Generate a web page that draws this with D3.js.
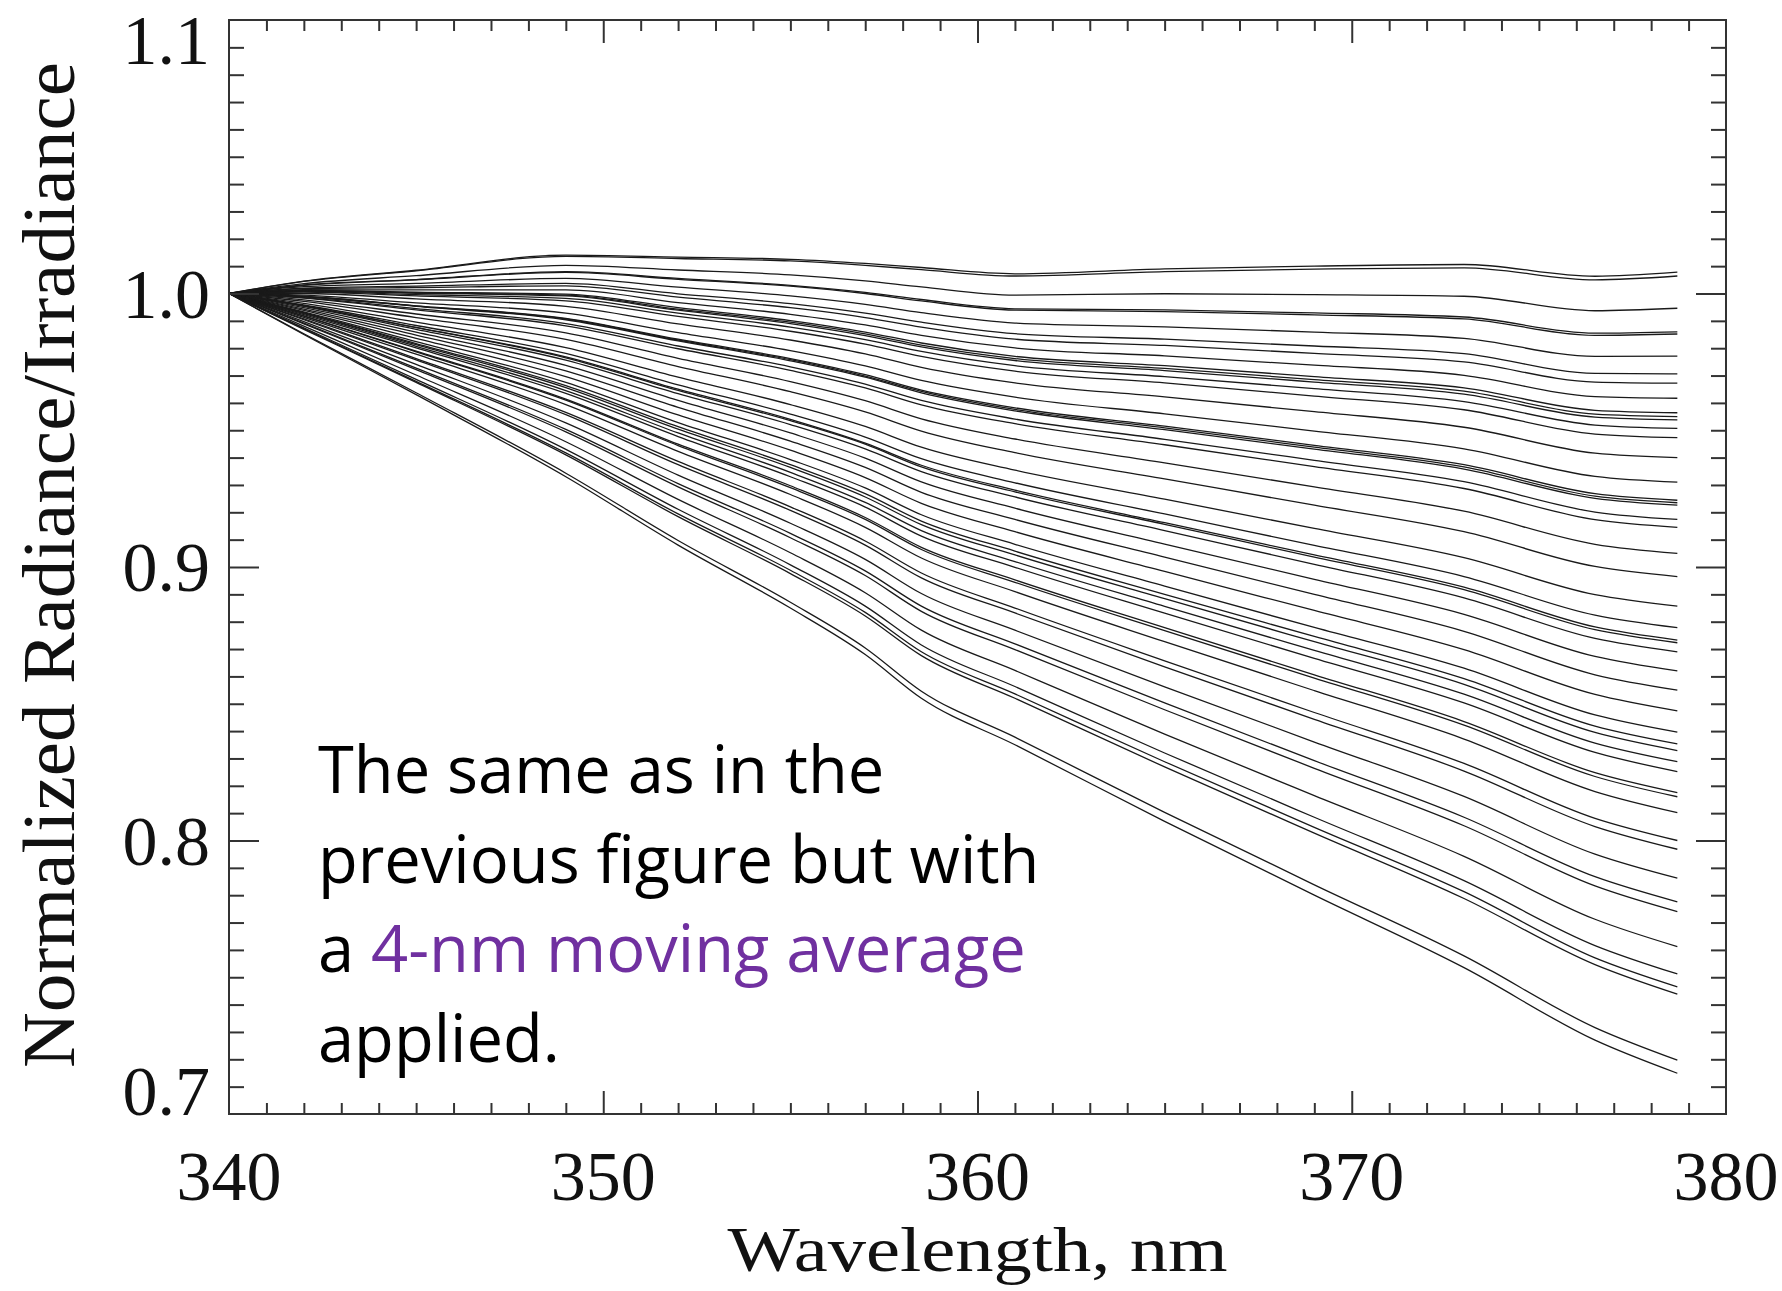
<!DOCTYPE html>
<html>
<head>
<meta charset="utf-8">
<script src="https://cdn.jsdelivr.net/npm/d3@7"></script>
<style>
  body { margin: 0; background: #fff; }
  svg { display: block; }
</style>
</head>
<body>
<div class="chart"></div>
<script>
const wavelengths = [340, 342, 345, 349, 352, 355, 357, 358.5, 361, 365, 369, 373, 376.5, 378.7]

// normalized radiance/irradiance, one array per curve, top to bottom
const r01 = [1, 1.0045, 1.0085, 1.0140, 1.0133, 1.0125, 1.0110, 1.0095, 1.0072, 1.0090, 1.0100, 1.0106, 1.0063, 1.0078]
const r02 = [1, 1.0044, 1.0083, 1.0136, 1.0128, 1.0119, 1.0103, 1.0087, 1.0064, 1.0080, 1.0089, 1.0094, 1.0050, 1.0064]
const r03 = [1, 1.0036, 1.0065, 1.0103, 1.0086, 1.0068, 1.0046, 1.0024, 0.9994, 0.9999, 0.9996, 0.9990, 0.9937, 0.9946]
const r04 = [1, 1.0031, 1.0051, 1.0080, 1.0055, 1.0030, 1.0004, 0.9978, 0.9944, 0.9940, 0.9929, 0.9914, 0.9855, 0.9860]
const r05 = [1, 1.0030, 1.0050, 1.0077, 1.0052, 1.0027, 1.0000, 0.9973, 0.9939, 0.9934, 0.9922, 0.9907, 0.9847, 0.9852]
const r06 = [1, 1.0025, 1.0037, 1.0055, 1.0023, 0.9991, 0.9960, 0.9930, 0.9892, 0.9878, 0.9859, 0.9836, 0.9770, 0.9771]
const r07 = [1, 1.0020, 1.0027, 1.0037, 0.9999, 0.9963, 0.9928, 0.9895, 0.9853, 0.9833, 0.9808, 0.9780, 0.9708, 0.9706]
const r08 = [1, 1.0018, 1.0022, 1.0028, 0.9987, 0.9948, 0.9912, 0.9877, 0.9833, 0.9810, 0.9781, 0.9750, 0.9676, 0.9672]
const r09 = [1, 1.0014, 1.0013, 1.0013, 0.9967, 0.9924, 0.9885, 0.9847, 0.9801, 0.9772, 0.9738, 0.9701, 0.9623, 0.9617]
const r10 = [1, 1.0011, 1.0005, 0.9998, 0.9948, 0.9901, 0.9859, 0.9819, 0.9770, 0.9736, 0.9696, 0.9655, 0.9573, 0.9564]
const r11 = [1, 1.0010, 1.0003, 0.9994, 0.9943, 0.9895, 0.9852, 0.9811, 0.9762, 0.9726, 0.9685, 0.9643, 0.9559, 0.9550]
const r12 = [1, 1.0009, 1.0001, 0.9991, 0.9939, 0.9890, 0.9846, 0.9805, 0.9755, 0.9718, 0.9676, 0.9632, 0.9548, 0.9538]
const r13 = [1, 1.0007, 0.9996, 0.9982, 0.9928, 0.9877, 0.9831, 0.9788, 0.9736, 0.9696, 0.9652, 0.9605, 0.9519, 0.9507]
const r14 = [1, 1.0005, 0.9991, 0.9973, 0.9916, 0.9862, 0.9815, 0.9770, 0.9716, 0.9673, 0.9625, 0.9575, 0.9486, 0.9473]
const r15 = [1, 1.0000, 0.9980, 0.9953, 0.9889, 0.9830, 0.9779, 0.9730, 0.9673, 0.9622, 0.9568, 0.9511, 0.9416, 0.9400]
const r16 = [1, 0.9994, 0.9966, 0.9928, 0.9857, 0.9791, 0.9735, 0.9682, 0.9621, 0.9560, 0.9497, 0.9432, 0.9331, 0.9310]
const r17 = [1, 0.9990, 0.9955, 0.9909, 0.9833, 0.9762, 0.9703, 0.9647, 0.9582, 0.9515, 0.9445, 0.9374, 0.9268, 0.9244]
const r18 = [1, 0.9989, 0.9954, 0.9907, 0.9830, 0.9758, 0.9698, 0.9642, 0.9576, 0.9509, 0.9438, 0.9366, 0.9259, 0.9235]
const r19 = [1, 0.9988, 0.9953, 0.9904, 0.9827, 0.9754, 0.9694, 0.9637, 0.9571, 0.9502, 0.9431, 0.9358, 0.9251, 0.9226]
const r20 = [1, 0.9985, 0.9945, 0.9890, 0.9808, 0.9732, 0.9669, 0.9609, 0.9541, 0.9467, 0.9390, 0.9312, 0.9201, 0.9174]
const r21 = [1, 0.9983, 0.9940, 0.9882, 0.9798, 0.9719, 0.9655, 0.9593, 0.9524, 0.9447, 0.9367, 0.9287, 0.9173, 0.9145]
const r22 = [1, 0.9977, 0.9925, 0.9856, 0.9763, 0.9678, 0.9608, 0.9542, 0.9468, 0.9381, 0.9293, 0.9204, 0.9083, 0.9050]
const r23 = [1, 0.9971, 0.9912, 0.9832, 0.9733, 0.9641, 0.9567, 0.9497, 0.9418, 0.9322, 0.9226, 0.9129, 0.9002, 0.8965]
const r24 = [1, 0.9964, 0.9895, 0.9802, 0.9694, 0.9594, 0.9514, 0.9438, 0.9354, 0.9248, 0.9141, 0.9034, 0.8899, 0.8857]
const r25 = [1, 0.9958, 0.9883, 0.9781, 0.9666, 0.9559, 0.9475, 0.9396, 0.9308, 0.9194, 0.9079, 0.8965, 0.8824, 0.8778]
const r26 = [1, 0.9955, 0.9876, 0.9768, 0.9650, 0.9540, 0.9453, 0.9372, 0.9281, 0.9162, 0.9044, 0.8926, 0.8781, 0.8733]
const r27 = [1, 0.9955, 0.9875, 0.9765, 0.9646, 0.9535, 0.9449, 0.9366, 0.9275, 0.9156, 0.9036, 0.8917, 0.8771, 0.8723]
const r28 = [1, 0.9953, 0.9869, 0.9756, 0.9634, 0.9521, 0.9432, 0.9349, 0.9256, 0.9133, 0.9010, 0.8887, 0.8739, 0.8690]
const r29 = [1, 0.9948, 0.9859, 0.9737, 0.9609, 0.9490, 0.9398, 0.9311, 0.9215, 0.9084, 0.8955, 0.8827, 0.8673, 0.8620]
const r30 = [1, 0.9943, 0.9848, 0.9717, 0.9584, 0.9460, 0.9364, 0.9273, 0.9174, 0.9036, 0.8900, 0.8765, 0.8606, 0.8550]
const r31 = [1, 0.9938, 0.9836, 0.9696, 0.9556, 0.9427, 0.9327, 0.9233, 0.9129, 0.8984, 0.8841, 0.8698, 0.8534, 0.8474]
const r32 = [1, 0.9933, 0.9824, 0.9675, 0.9528, 0.9393, 0.9289, 0.9191, 0.9083, 0.8930, 0.8779, 0.8630, 0.8459, 0.8396]
const r33 = [1, 0.9930, 0.9817, 0.9663, 0.9513, 0.9374, 0.9268, 0.9168, 0.9058, 0.8900, 0.8746, 0.8592, 0.8418, 0.8353]
const r34 = [1, 0.9929, 0.9813, 0.9656, 0.9504, 0.9364, 0.9256, 0.9155, 0.9044, 0.8884, 0.8727, 0.8571, 0.8395, 0.8329]
const r35 = [1, 0.9926, 0.9807, 0.9645, 0.9490, 0.9346, 0.9236, 0.9133, 0.9020, 0.8856, 0.8695, 0.8535, 0.8356, 0.8288]
const r36 = [1, 0.9923, 0.9801, 0.9635, 0.9477, 0.9330, 0.9219, 0.9113, 0.8999, 0.8831, 0.8666, 0.8503, 0.8322, 0.8252]
const r37 = [1, 0.9918, 0.9789, 0.9614, 0.9449, 0.9297, 0.9181, 0.9072, 0.8953, 0.8778, 0.8606, 0.8435, 0.8248, 0.8175]
const r38 = [1, 0.9917, 0.9787, 0.9610, 0.9444, 0.9290, 0.9174, 0.9064, 0.8944, 0.8767, 0.8594, 0.8422, 0.8234, 0.8160]
const r39 = [1, 0.9913, 0.9778, 0.9594, 0.9423, 0.9265, 0.9145, 0.9033, 0.8910, 0.8727, 0.8548, 0.8371, 0.8179, 0.8102]
const r40 = [1, 0.9907, 0.9762, 0.9565, 0.9386, 0.9220, 0.9095, 0.8978, 0.8850, 0.8657, 0.8468, 0.8282, 0.8081, 0.8000]
const r41 = [1, 0.9904, 0.9757, 0.9557, 0.9374, 0.9207, 0.9080, 0.8960, 0.8832, 0.8635, 0.8443, 0.8254, 0.8051, 0.7968]
const r42 = [1, 0.9897, 0.9741, 0.9527, 0.9336, 0.9160, 0.9028, 0.8903, 0.8769, 0.8562, 0.8360, 0.8161, 0.7950, 0.7862]
const r43 = [1, 0.9892, 0.9727, 0.9503, 0.9305, 0.9123, 0.8986, 0.8857, 0.8719, 0.8503, 0.8292, 0.8085, 0.7868, 0.7776]
const r44 = [1, 0.9889, 0.9722, 0.9494, 0.9293, 0.9107, 0.8969, 0.8838, 0.8698, 0.8478, 0.8264, 0.8054, 0.7834, 0.7740]
const r45 = [1, 0.9881, 0.9702, 0.9458, 0.9247, 0.9052, 0.8906, 0.8769, 0.8622, 0.8389, 0.8164, 0.7942, 0.7712, 0.7612]
const r46 = [1, 0.9874, 0.9686, 0.9430, 0.9211, 0.9008, 0.8857, 0.8715, 0.8563, 0.8320, 0.8085, 0.7853, 0.7616, 0.7512]
const r47 = [1, 0.9871, 0.9679, 0.9417, 0.9194, 0.8988, 0.8834, 0.8690, 0.8536, 0.8288, 0.8048, 0.7813, 0.7571, 0.7465]
const r48 = [1, 0.9869, 0.9675, 0.9410, 0.9184, 0.8976, 0.8821, 0.8676, 0.8520, 0.8269, 0.8027, 0.7788, 0.7546, 0.7438]
const r49 = [1, 0.9853, 0.9637, 0.9343, 0.9097, 0.8871, 0.8704, 0.8546, 0.8378, 0.8103, 0.7838, 0.7578, 0.7316, 0.7197]
const r50 = [1, 0.9850, 0.9630, 0.9330, 0.9080, 0.8850, 0.8680, 0.8520, 0.8350, 0.8070, 0.7800, 0.7535, 0.7270, 0.7149]

const spectra = [r01, r02, r03, r04, r05, r06, r07, r08, r09, r10,
                 r11, r12, r13, r14, r15, r16, r17, r18, r19, r20,
                 r21, r22, r23, r24, r25, r26, r27, r28, r29, r30,
                 r31, r32, r33, r34, r35, r36, r37, r38, r39, r40,
                 r41, r42, r43, r44, r45, r46, r47, r48, r49, r50]

const xTickLabels = [340, 350, 360, 370, 380]
const yTickLabels = [0.7, 0.8, 0.9, 1.0, 1.1]
const xTitle = 'Wavelength, nm'
const yTitle = 'Normalized Radiance/Irradiance'
const noteLines = [
    [{ t: 'The same as in the' }],
    [{ t: 'previous figure but with' }],
    [{ t: 'a ' }, { t: '4-nm moving average', purple: true }],
    [{ t: 'applied.' }]
]

const svgWidth = 1782
const svgHeight = 1291
const frame = { left: 229, right: 1726, top: 20, bottom: 1114 }
const axisColor = '#333'
const serif = '"Liberation Serif", "Times New Roman", serif'

const svg = d3.select('.chart')
    .append('svg')
    .attr('width', svgWidth)
    .attr('height', svgHeight)

svg.append('rect')
    .attr('width', svgWidth)
    .attr('height', svgHeight)
    .attr('fill', '#fff')

const x = d3.scaleLinear().domain([340, 380]).range([frame.left, frame.right])
const y = d3.scaleLinear().domain([0.7, 1.1]).range([frame.bottom, frame.top])

// curves
const line = d3.line()
    .x((d, i) => x(wavelengths[i]))
    .y(d => y(d))
    .curve(d3.curveMonotoneX)

svg.append('g')
    .selectAll('path')
    .data(spectra)
    .join('path')
    .attr('d', line)
    .attr('fill', 'none')
    .attr('stroke', '#1a1a1a')
    .attr('stroke-width', 1.3)

// tick marks on all four sides, pointing inwards
const xMinor = d3.range(341, 380).filter(v => v % 10 !== 0)
const xMajor = [350, 360, 370]
const yMinor = d3.range(71, 110).map(v => v / 100).filter((v, i) => (i + 1) % 10 !== 0)
const yMajor = [0.8, 0.9, 1.0]

function tickAxis(axisFn, scale, values, size, translate) {
    const g = svg.append('g')
        .attr('transform', translate)
        .call(axisFn(scale).tickValues(values).tickSize(-size).tickFormat(''))
    g.select('.domain').remove()
    g.selectAll('line').attr('stroke', axisColor).attr('stroke-width', 2)
    return g
}

tickAxis(d3.axisBottom, x, xMinor, 11, `translate(0,${frame.bottom})`)
tickAxis(d3.axisBottom, x, xMajor, 23, `translate(0,${frame.bottom})`)
tickAxis(d3.axisTop, x, xMinor, 11, `translate(0,${frame.top})`)
tickAxis(d3.axisTop, x, xMajor, 23, `translate(0,${frame.top})`)
tickAxis(d3.axisLeft, y, yMinor, 15, `translate(${frame.left},0)`)
tickAxis(d3.axisLeft, y, yMajor, 30, `translate(${frame.left},0)`)
tickAxis(d3.axisRight, y, yMinor, 15, `translate(${frame.right},0)`)
tickAxis(d3.axisRight, y, yMajor, 30, `translate(${frame.right},0)`)

svg.append('rect')
    .attr('x', frame.left)
    .attr('y', frame.top)
    .attr('width', frame.right - frame.left)
    .attr('height', frame.bottom - frame.top)
    .attr('fill', 'none')
    .attr('stroke', axisColor)
    .attr('stroke-width', 2)

// tick labels
svg.append('g')
    .selectAll('text')
    .data(xTickLabels)
    .join('text')
    .attr('x', d => x(d))
    .attr('y', 1200)
    .attr('text-anchor', 'middle')
    .attr('font-family', serif)
    .attr('font-size', 70)
    .attr('fill', '#111')
    .text(d => d)

svg.append('g')
    .selectAll('text')
    .data(yTickLabels)
    .join('text')
    .attr('x', 210)
    .attr('y', d => {
        // end labels are pulled inside the figure like in the original
        if (d === 1.1) return 64
        if (d === 0.7) return y(d) + 1
        return y(d) + 24
    })
    .attr('text-anchor', 'end')
    .attr('font-family', serif)
    .attr('font-size', 70)
    .attr('fill', '#111')
    .text(d => d.toFixed(1))

// axis titles
svg.append('text')
    .attr('x', (frame.left + frame.right) / 2)
    .attr('y', 1271)
    .attr('text-anchor', 'middle')
    .attr('font-family', serif)
    .attr('font-size', 64)
    .attr('textLength', 500)
    .attr('lengthAdjust', 'spacingAndGlyphs')
    .attr('fill', '#111')
    .text(xTitle)

svg.append('text')
    .attr('transform', 'translate(74,565) rotate(-90)')
    .attr('text-anchor', 'middle')
    .attr('font-family', serif)
    .attr('font-size', 75)
    .attr('textLength', 1006)
    .attr('lengthAdjust', 'spacingAndGlyphs')
    .attr('fill', '#111')
    .text(yTitle)

// annotation
const note = svg.append('text')
    .attr('font-family', '"Open Sans", "Noto Sans", sans-serif')
    .attr('font-size', 65)
    .attr('fill', '#000')

noteLines.forEach((parts, i) => {
    const row = note.append('tspan')
        .attr('x', 318)
        .attr('y', 793 + i * 89.5)
    parts.forEach(p => {
        row.append('tspan')
            .attr('fill', p.purple ? '#7030A0' : '#000')
            .text(p.t)
    })
})
</script>
</body>
</html>
